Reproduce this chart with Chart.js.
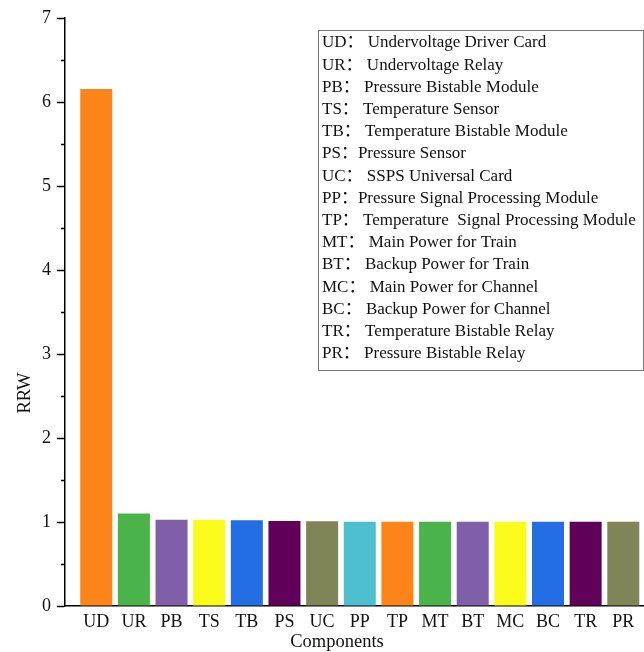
<!DOCTYPE html>
<html>
<head>
<meta charset="utf-8">
<script src="https://cdn.jsdelivr.net/npm/chart.js@4.4.1/dist/chart.umd.min.js"></script>
<style>
  html, body { margin: 0; padding: 0; background: #fff; }
  #wrap { width: 644px; height: 652px; }
</style>
</head>
<body>
<div id="wrap"><canvas id="rrwChart" width="644" height="652"></canvas></div>
<script>
// categories + values
const categories = ["UD", "UR", "PB", "TS", "TB", "PS", "UC", "PP", "TP", "MT", "BT", "MC", "BC", "TR", "PR"];
const rrwValues = [6.155, 1.10, 1.027, 1.024, 1.02, 1.012, 1.008, 1.003, 1.003, 1.003, 1.003, 1.003, 1.003, 1.003, 1.003];
const barColors = [
  "#fd8418", "#4ab34a", "#7f5fa8", "#fbfb1c", "#236de5", "#600058", "#7f8556", "#4dbfcf",
  "#fd8418", "#4ab34a", "#7f5fa8", "#fbfb1c", "#236de5", "#600058", "#7f8556"
];
const yMin = 0, yMax = 7, yStep = 0.5;
const legendLines = [
  "UD： Undervoltage Driver Card",
  "UR： Undervoltage Relay",
  "PB： Pressure Bistable Module",
  "TS： Temperature Sensor",
  "TB： Temperature Bistable Module",
  "PS：Pressure Sensor",
  "UC： SSPS Universal Card",
  "PP：Pressure Signal Processing Module",
  "TP： Temperature  Signal Processing Module",
  "MT： Main Power for Train",
  "BT： Backup Power for Train",
  "MC： Main Power for Channel",
  "BC： Backup Power for Channel",
  "TR： Temperature Bistable Relay",
  "PR： Pressure Bistable Relay"
];

const FONT = "'Liberation Serif', 'Times New Roman', 'Noto Sans CJK SC', serif";

const extras = {
  id: "extras",
  afterDraw(chart) {
    const c = chart.ctx;
    const y = chart.scales.y;
    c.save();
    // minor ticks at the half steps
    c.strokeStyle = "#000";
    c.lineWidth = 1.5;
    y.ticks.forEach((t) => {
      if (Number.isInteger(t.value)) return;
      const py = Math.round(y.getPixelForValue(t.value)) + 0.5;
      c.beginPath();
      c.moveTo(y.right - 4, py);
      c.lineTo(y.right, py);
      c.stroke();
    });

    // axis titles
    c.fillStyle = "#111";
    c.font = "18.5px " + FONT;
    c.textAlign = "center";
    c.textBaseline = "middle";
    c.fillText("Components", 337, 642);
    c.save();
    c.translate(25, 393);
    c.rotate(-Math.PI / 2);
    c.fillText("RRW", 0, 0);
    c.restore();

    // abbreviation box
    c.strokeStyle = "#777";
    c.lineWidth = 1;
    c.fillStyle = "#fff";
    c.fillRect(318, 30, 325, 340);
    c.strokeRect(318.5, 30.5, 325, 340);
    c.fillStyle = "#111";
    c.font = "17px " + FONT;
    c.textAlign = "left";
    legendLines.forEach((line, i) => {
      c.fillText(line, 322, 43 + i * 22.2);
    });
    c.restore();
  }
};

new Chart(document.getElementById("rrwChart"), {
  type: "bar",
  data: {
    datasets: [{
      data: categories.map((name, i) => ({ x: i, y: rrwValues[i] })),
      backgroundColor: barColors,
      borderWidth: 0,
      barPercentage: 0.85,
      categoryPercentage: 1
    }]
  },
  options: {
    responsive: false,
    animation: false,
    layout: { padding: { top: 18, right: 0, left: 0, bottom: 0 } },
    plugins: { legend: { display: false }, tooltip: { enabled: false } },
    scales: {
      x: {
        type: "linear",
        offset: false,
        min: -0.83,
        max: 14.55,
        afterBuildTicks: (s) => { s.ticks = categories.map((_, i) => ({ value: i })); },
        afterFit: (s) => { s.height = 46; },
        grid: { display: false },
        border: { display: true, color: "#000", width: 1.5 },
        ticks: {
          autoSkip: false,
          maxRotation: 0,
          padding: -3,
          color: "#111",
          font: { family: FONT, size: 18 },
          callback: (v) => categories[v] || ""
        }
      },
      y: {
        min: yMin,
        max: yMax,
        afterFit: (s) => { s.width = 65; },
        grid: {
          drawOnChartArea: false,
          tickLength: 8,
          tickWidth: 1.5,
          tickColor: (ctx) => (ctx.tick && Number.isInteger(ctx.tick.value)) ? "#000" : "rgba(0,0,0,0)"
        },
        border: { display: true, color: "#000", width: 1.5 },
        ticks: {
          stepSize: yStep,
          padding: 6,
          color: "#111",
          font: { family: FONT, size: 18 },
          callback: (v) => Number.isInteger(v) ? v : ""
        }
      }
    }
  },
  plugins: [extras]
});
</script>
</body>
</html>
